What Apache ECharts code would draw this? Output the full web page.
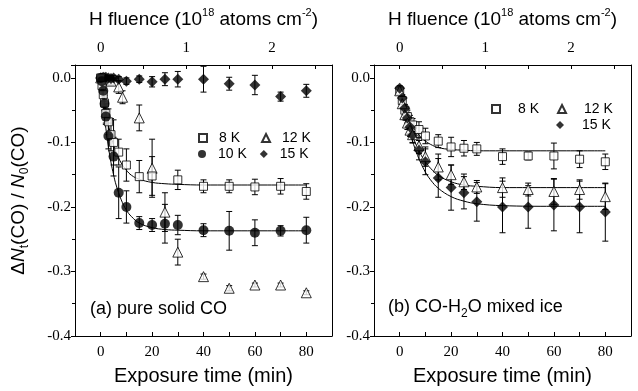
<!DOCTYPE html>
<html>
<head>
<meta charset="utf-8">
<script src="https://cdn.jsdelivr.net/npm/echarts@6/dist/echarts.min.js"></script>
<style>
  html, body { margin: 0; padding: 0; background: #fff; }
  #chart { width: 638px; height: 391px; }
</style>
</head>
<body>
<div id="chart"></div>
<script>
// (a) pure solid CO
var aT8 = [0, 0.5, 1, 1.5, 2, 3, 4, 5, 7, 10, 15, 20, 30, 40, 50, 60, 70, 80];
var aV8 = [0.0, -0.012, -0.026, -0.039, -0.055, -0.068, -0.088, -0.100, -0.115, -0.135, -0.153, -0.152, -0.158, -0.168, -0.168, -0.169, -0.168, -0.176];
var aE8 = [0.005, 0.008, 0.01, 0.012, 0.015, 0.02, 0.025, 0.035, 0.02, 0.025, 0.025, 0.03, 0.015, 0.01, 0.01, 0.012, 0.012, 0.012];

var aT10 = [0, 0.5, 1, 1.5, 2, 3, 5, 7, 10, 15, 20, 25, 30, 40, 50, 60, 70, 80];
var aV10 = [0, -0.005, -0.02, -0.04, -0.06, -0.09, -0.122, -0.178, -0.200, -0.225, -0.228, -0.226, -0.228, -0.236, -0.237, -0.240, -0.237, -0.236];
var aE10 = [0.003, 0.005, 0.008, 0.01, 0.012, 0.02, 0.03, 0.04, 0.025, 0.01, 0.01, 0.03, 0.015, 0.01, 0.03, 0.02, 0.008, 0.02];

var aT12 = [0, 1, 2, 4, 7, 8.5, 15, 20, 25, 30, 40, 50, 60, 70, 80];
var aV12 = [0, -0.003, -0.002, -0.005, -0.014, -0.030, -0.062, -0.140, -0.208, -0.270, -0.308, -0.326, -0.321, -0.321, -0.333];
var aE12 = [0.004, 0.005, 0.005, 0.006, 0.01, 0.01, 0.02, 0.045, 0.03, 0.02, 0.004, 0.004, 0.003, 0.003, 0.003];

var aT15 = [0, 0.5, 1, 1.5, 2, 3, 4, 5, 7, 10, 15, 20, 25, 30, 40, 50, 60, 70, 80];
var aV15 = [0, 0, 0.001, 0, 0.001, 0, -0.001, 0, -0.002, -0.005, -0.002, -0.006, -0.002, -0.002, -0.002, -0.009, -0.011, -0.029, -0.020];
var aE15 = [0.003, 0.003, 0.003, 0.003, 0.003, 0.003, 0.004, 0.004, 0.004, 0.005, 0.005, 0.008, 0.01, 0.012, 0.02, 0.01, 0.015, 0.007, 0.01];

// fit curves (a)
var aFitT = [0, 1, 2, 3, 4, 5, 6, 8, 10, 12, 15, 20, 25, 30, 40, 60, 80];
var aFit8 = [0, -0.03, -0.05, -0.072, -0.09, -0.104, -0.115, -0.132, -0.143, -0.151, -0.157, -0.162, -0.164, -0.165, -0.166, -0.166, -0.166];
var aFit10 = [0, -0.043, -0.078, -0.107, -0.131, -0.150, -0.166, -0.189, -0.205, -0.215, -0.225, -0.232, -0.235, -0.236, -0.237, -0.237, -0.237];

// (b) CO-H2O mixed ice
var bT = [0, 1, 2, 3, 4, 5, 7.5, 10, 15, 20, 25, 30, 40, 50, 60, 70, 80];
var bV8 = [-0.02, -0.035, -0.05, -0.06, -0.068, -0.073, -0.08, -0.09, -0.098, -0.107, -0.109, -0.11, -0.122, -0.121, -0.121, -0.126, -0.13];
var bE8 = [0.005, 0.006, 0.008, 0.01, 0.01, 0.01, 0.012, 0.012, 0.01, 0.015, 0.012, 0.01, 0.012, 0.006, 0.02, 0.013, 0.012];
var bV12 = [-0.02, -0.04, -0.057, -0.07, -0.081, -0.088, -0.105, -0.122, -0.138, -0.150, -0.161, -0.169, -0.170, -0.173, -0.176, -0.173, -0.184];
var bE12 = [0.005, 0.006, 0.008, 0.01, 0.01, 0.012, 0.012, 0.015, 0.02, 0.015, 0.012, 0.01, 0.015, 0.01, 0.02, 0.015, 0.02];
var bV15 = [-0.016, -0.031, -0.047, -0.062, -0.076, -0.089, -0.112, -0.13, -0.155, -0.17, -0.178, -0.192, -0.200, -0.200, -0.197, -0.200, -0.208];
var bE15 = [0.004, 0.005, 0.006, 0.008, 0.01, 0.012, 0.015, 0.02, 0.03, 0.035, 0.025, 0.03, 0.04, 0.033, 0.04, 0.04, 0.045];

var bFitT = [0, 1, 2, 3, 4, 6, 8, 10, 12, 15, 20, 25, 30, 40, 60, 80];
var bFit8 = [-0.015, -0.03, -0.043, -0.055, -0.065, -0.08, -0.091, -0.098, -0.103, -0.108, -0.111, -0.112, -0.113, -0.113, -0.113, -0.113];
var bFit12 = [-0.015, -0.033, -0.05, -0.065, -0.078, -0.1, -0.117, -0.13, -0.14, -0.151, -0.161, -0.166, -0.168, -0.17, -0.17, -0.17];
var bFit15 = [-0.015, -0.035, -0.053, -0.07, -0.085, -0.11, -0.13, -0.146, -0.158, -0.171, -0.184, -0.191, -0.195, -0.198, -0.199, -0.199];

var timeTicks = [0, 10, 20, 30, 40, 50, 60, 70, 80];
var timeLabels = [0, 20, 40, 60, 80];
var fluenceTicks = [0, 0.5, 1, 1.5, 2, 2.5];
var fluenceLabels = [0, 1, 2];
var MIN_PER_FLUENCE = 33.33; // 1e18 atoms cm-2 per 33.3 min

var SERIF = '"Liberation Serif", "DejaVu Serif", serif';
var SANS = '"Liberation Sans", Arial, sans-serif';

function pairs(t, v) {
  return t.map(function (x, i) { return [x, v[i]]; });
}
function bars(t, v, e) {
  return t.map(function (x, i) { return [x, v[i] - e[i], v[i] + e[i]]; });
}

// 误差棒：竖线 + 上下短横
function errRender(params, api) {
  var x = api.value(0);
  var p1 = api.coord([x, api.value(2)]);
  var p2 = api.coord([x, api.value(1)]);
  var w = 3;
  var st = { stroke: '#000', lineWidth: 1 };
  return {
    type: 'group',
    children: [
      { type: 'line', shape: { x1: p1[0], y1: p1[1], x2: p2[0], y2: p2[1] }, style: st },
      { type: 'line', shape: { x1: p1[0] - w, y1: p1[1], x2: p1[0] + w, y2: p1[1] }, style: st },
      { type: 'line', shape: { x1: p2[0] - w, y1: p2[1], x2: p2[0] + w, y2: p2[1] }, style: st }
    ]
  };
}

var markers = {
  '8 K': { symbol: 'rect', symbolSize: 8, itemStyle: { color: '#fff', borderColor: '#000', borderWidth: 1 } },
  '10 K': { symbol: 'circle', symbolSize: 10, itemStyle: { color: '#000' } },
  '12 K': { symbol: 'triangle', symbolSize: 10, itemStyle: { color: '#fff', borderColor: '#000', borderWidth: 1 } },
  '15 K': { symbol: 'diamond', symbolSize: 11, itemStyle: { color: '#000' } }
};

var series = [];
function addSet(name, xi, t, v, e) {
  series.push({
    type: 'custom', name: name + ' err', xAxisIndex: xi, yAxisIndex: xi,
    renderItem: errRender, data: bars(t, v, e), encode: { x: 0, y: [1, 2] }, z: 1, silent: true
  });
  var m = markers[name];
  series.push({
    type: 'scatter', name: name, xAxisIndex: xi, yAxisIndex: xi,
    symbol: m.symbol, symbolSize: m.symbolSize, itemStyle: m.itemStyle,
    data: pairs(t, v), z: 3
  });
}
function addFit(xi, t, v) {
  series.push({
    type: 'line', name: 'fit', xAxisIndex: xi, yAxisIndex: xi, data: pairs(t, v),
    smooth: 0.4, showSymbol: false, symbol: 'none', lineStyle: { color: '#000', width: 1 }, z: 2, silent: true
  });
}

addSet('12 K', 0, aT12, aV12, aE12);
addSet('15 K', 0, aT15, aV15, aE15);
addSet('8 K', 0, aT8, aV8, aE8);
addSet('10 K', 0, aT10, aV10, aE10);
addFit(0, aFitT, aFit8);
addFit(0, aFitT, aFit10);

addSet('8 K', 2, bT, bV8, bE8);
addSet('12 K', 2, bT, bV12, bE12);
addSet('15 K', 2, bT, bV15, bE15);
addFit(2, bFitT, bFit8);
addFit(2, bFitT, bFit12);
addFit(2, bFitT, bFit15);

var grids = [
  { left: 75, top: 65, width: 257, height: 271 },
  { left: 374, top: 65, width: 257, height: 271 }
];

var axisLine = { show: true, onZero: false, lineStyle: { color: '#000', width: 1 } };

var topName = {
  rich: {
    n: { fontFamily: SANS, fontSize: 19, color: '#000', lineHeight: 22, verticalAlign: 'bottom' },
    s: { fontFamily: SANS, fontSize: 11, color: '#000', lineHeight: 22, verticalAlign: 'top', padding: [0, 0, 8, 0] }
  }
};

var xAxes = [];
var yAxes = [];
[0, 1].forEach(function (g) {
  xAxes.push({
    type: 'value', gridIndex: g, position: 'bottom', min: -10, max: 90,
    axisLine: axisLine, splitLine: { show: false },
    axisTick: { show: true, inside: true, length: 4, customValues: timeTicks, lineStyle: { color: '#000' } },
    axisLabel: { customValues: timeLabels, margin: 9, fontFamily: SERIF, fontSize: 15, color: '#000' },
    name: 'Exposure time (min)', nameLocation: 'middle', nameGap: 30,
    nameTextStyle: { fontFamily: SANS, fontSize: 20, color: '#000' }
  });
  xAxes.push({
    type: 'value', gridIndex: g, position: 'top',
    min: -10 / MIN_PER_FLUENCE, max: 90 / MIN_PER_FLUENCE,
    axisLine: axisLine, splitLine: { show: false },
    axisTick: { show: true, inside: true, length: 4, customValues: fluenceTicks, lineStyle: { color: '#000' } },
    axisLabel: { customValues: fluenceLabels, margin: 9, fontFamily: SERIF, fontSize: 15, color: '#000' },
    name: '{n|H fluence (10}{s|18}{n| atoms cm}{s|-2}{n|)}', nameLocation: 'middle', nameGap: 36,
    nameTextStyle: topName
  });
  yAxes.push({
    type: 'value', gridIndex: g, position: 'left', min: -0.4, max: 0.02, interval: 0.1,
    axisLine: axisLine, splitLine: { show: false },
    axisTick: { show: true, inside: false, length: 4, lineStyle: { color: '#000' } },
    minorTick: { show: true, splitNumber: 2, length: 3, lineStyle: { color: '#000' } },
    axisLabel: { margin: 4, fontFamily: SERIF, fontSize: 15, color: '#000',
      formatter: function (v) { return v.toFixed(1); } }
  });
  yAxes.push({
    type: 'value', gridIndex: g, position: 'right', min: -0.4, max: 0.02,
    axisLine: axisLine, splitLine: { show: false },
    axisTick: { show: false }, axisLabel: { show: false }
  });
});

yAxes[0].name = '{d|\u0394}{i|N}{b|t}{d|(CO) / }{i|N}{b|0}{d|(CO)}';
yAxes[0].nameLocation = 'middle';
yAxes[0].nameGap = 44;
yAxes[0].nameRotate = 90;
yAxes[0].nameTextStyle = {
  rich: {
    d: { fontFamily: SANS, fontSize: 19, color: '#000', lineHeight: 22, verticalAlign: 'top' },
    i: { fontFamily: SANS, fontSize: 19, fontStyle: 'italic', color: '#000', lineHeight: 22, verticalAlign: 'top' },
    b: { fontFamily: SANS, fontSize: 12, color: '#000', lineHeight: 22, verticalAlign: 'bottom', padding: [8, 0, 0, 0] }
  }
};

function legend(names, left, top, pad, gap) {
  return {
    data: names, left: left, top: top, orient: 'horizontal', itemWidth: 8, itemHeight: 8,
    itemGap: gap, selectedMode: false, padding: 0,
    textStyle: { fontFamily: SANS, fontSize: 14, color: '#000', padding: [0, 0, 0, pad] }
  };
}

var option = {
  animation: false,
  backgroundColor: '#fff',
  grid: grids,
  xAxis: xAxes,
  yAxis: yAxes,
  legend: [
    legend(['8 K', '12 K'], 198, 131, 7, 21),
    legend(['10 K', '15 K'], 198, 147, 7, 13),
    legend(['8 K', '12 K'], 491, 102, 13, 18),
    legend(['15 K'], 556, 118, 13, 18)
  ],
  graphic: [
    { type: 'text', left: 90, top: 300, style: { text: '(a) pure solid CO', fontFamily: SANS, fontSize: 18, fill: '#000' } },
    { type: 'text', left: 388, top: 298, style: {
      text: '{n|(b) CO-H}{s|2}{n|O mixed ice}',
      rich: {
        n: { fontFamily: SANS, fontSize: 18, fill: '#000', lineHeight: 22, verticalAlign: 'top' },
        s: { fontFamily: SANS, fontSize: 12, fill: '#000', lineHeight: 22, verticalAlign: 'bottom', padding: [8, 0, 0, 0] }
      } } }
  ],
  series: series
};

var chart = echarts.init(document.getElementById('chart'));
chart.setOption(option);
</script>
</body>
</html>
